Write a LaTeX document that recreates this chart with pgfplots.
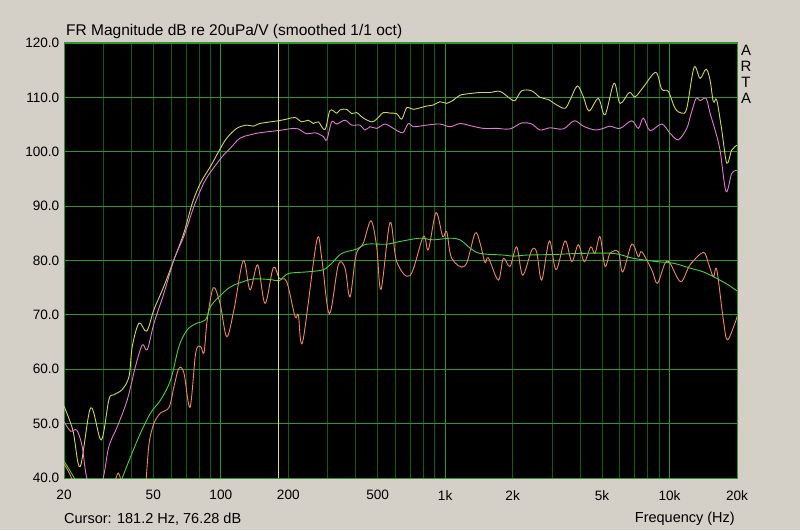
\documentclass[border=0pt]{standalone}
\usepackage{pgfplots}
\pgfplotsset{compat=1.18}
\usepackage{fontspec}
\setmainfont{Liberation Sans}
\definecolor{bg}{RGB}{212,208,200}
\definecolor{gbright}{RGB}{45,150,45}
\definecolor{gdark}{RGB}{22,88,22}
\definecolor{cyel}{RGB}{210,215,85}
\definecolor{cpink}{RGB}{230,120,215}
\definecolor{corange}{RGB}{245,135,95}
\definecolor{cgreen}{RGB}{75,210,60}
\definecolor{ccursor}{RGB}{225,225,90}
\begin{document}
\begin{tikzpicture}
\fill[bg] (0,0) rectangle (800pt,530pt);
\begin{axis}[
 at={(64pt,52pt)}, anchor=south west,
 scale only axis, width=673pt, height=435pt,
 xmode=log, xmin=20, xmax=20000, ymin=40, ymax=120,
 axis background/.style={fill=black},
 axis line style={gbright, line width=1pt},
 xtick={20,50,100,200,500,1000,2000,5000,10000,20000},
 xticklabels={20,50,100,200,500,1k,2k,5k,10k,20k},
 minor xtick={30,40,50,60,70,80,90,200,300,400,500,600,700,800,900,2000,3000,4000,5000,6000,7000,8000,9000},
 extra x ticks={100,1000,10000},
 extra x tick labels={},
 extra x tick style={grid=major},
 xminorgrids=true, minor grid style={gdark, line width=0.8pt},
 ytick={40,50,...,120},
 yticklabels={40.0,50.0,60.0,70.0,80.0,90.0,100.0,110.0,120.0},
 ymajorgrids=true, major grid style={gbright, line width=0.8pt},
 major tick length=0pt, minor tick length=0pt,
 tick label style={font=\fontsize{13.6}{16}\selectfont, text=black},
 xticklabel style={anchor=north, inner sep=0pt, yshift=-12pt},
 yticklabel style={anchor=east, inner sep=0pt, xshift=-4.5pt},
 every axis plot/.append style={line width=0.9pt},
]
% yellow
\addplot[cyel, smooth, tension=0.55] coordinates {
(20,53.2)(21.9,48.8)(23.6,42.1)(26.3,52.9)(29.3,47.0)(31.7,54.4)(33.4,55.3)(36.4,56.3)(39,58.7)(40.3,64.2)
(43.2,68.5)(46.7,67.0)(50.4,71)(55.8,75.3)(61.9,80.2)(68.5,85.1)(74.7,90.6)(81.3,94.3)(90.2,97.4)(99.2,100.5)
(106.3,102.5)(117.7,104.3)(130.5,104.9)(139.6,104.7)(149.5,105.2)(180.5,105.7)(196.7,106)(214.2,106.3)
(229.4,105.5)(245.5,105.8)(258.4,105.2)(272.1,105.5)(291.4,104.1)(306.8,107.6)(328.7,107.1)(340,107.7)
(364,107.8)(383.4,107)(403.4,107.2)(431.8,106.2)(470.6,105.5)(495.4,106)(530.2,107.2)(568,107.1)(608.4,107)
(640.4,106)(674.2,108.1)(721.4,107.8)(827.8,108.4)(885.6,108.6)(948.6,109.2)(1016,108.9)(1088,109.5)
(1165,110.4)(1291,110.7)(1431,110.9)(1585,110.9)(1756,111.1)(1946,109.8)(2048,109.4)(2194,111.2)(2432,111.2)
(2648,110)(2884,109.6)(3144,108.6)(3424,108)(3604,109.5)(3884,112.1)(4130,110.1)(4380,107.5)(4818,109.8)
(5160,106.8)(5660,112.6)(6020,108.9)(6622,110.9)(7024,110.1)(7650,111.9)(8684,114.6)(9236,111.5)(9882,111.1)
(10586,108)(11340,107.1)(11940,108)(12870,115.5)(13686,113.5)(14556,115.2)(15164,113.2)(15686,109.2)
(16242,109.5)(17098,104)(18000,97.9)(18942,100.3)(20000,101.2)};
% pink
\addplot[cpink, smooth, tension=0.55] coordinates {
(20,50.4)(21.4,48.6)(22.8,48.8)(24.1,45.8)(25.2,40.2)(27.4,36)(29.9,40)(31.7,45.8)(34.6,49.5)(38.3,54.4)
(41.7,60.6)(44.7,64.5)(47,63.6)(50.4,68.5)(55.8,74)(61.9,80.2)(68.5,84.5)(76,90)(84.1,94.3)(91.6,96.7)
(103.4,99.5)(109.9,100.6)(121.8,102.5)(135,103.1)(149.5,103.5)(180.5,103.9)(210.4,104.3)(221.6,104.2)
(241.5,103.3)(263,103.5)(286.4,102.8)(296.6,102.2)(312.2,105.5)(328.7,105.1)(357.8,105.8)(383.4,104.9)
(417.4,104.9)(439.4,104)(462.6,104.6)(495.4,104.3)(539.6,105.1)(587.6,104.3)(647,103.5)(685.2,105.2)
(721.4,104.6)(827.8,104.9)(948.6,105.1)(1051,104.6)(1165,105.2)(1291,104.8)(1480,104.3)(1698,104.3)
(1946,104.2)(2194,105.3)(2432,105.1)(2648,104)(2934,104.4)(3364,104.2)(3766,105.7)(4130,104.7)(4656,104)
(5070,104.3)(5432,104.7)(6020,104.3)(6788,105.7)(7266,104.3)(7650,106.2)(8190,103.9)(9236,105.1)(10056,103.4)
(10952,102.2)(11940,104.3)(12442,106.8)(13136,109.8)(13686,109.4)(14556,109.8)(15164,107.1)(15960,104)
(16800,100.3)(17870,92.7)(18942,96)(20000,96.6)};
% orange
\addplot[corange, smooth, tension=0.55] coordinates {
(20,42.6)(21.5,40.2)(22.5,37)};
\addplot[corange, smooth, tension=0.55] coordinates {
(33.3,38.5)(34.9,40.9)(36.4,38.5)};
\addplot[corange, smooth, tension=0.55] coordinates {
(45.5,37)(46.5,40)(47.9,46.4)(50.4,50.1)(54,52)(58.8,53)(61.9,56.9)(65.1,60.2)(68.5,59.3)(72.9,53)
(77.3,63)(81.3,64.2)(84.1,63)(87,69.1)(92.6,75)(99.2,72.1)(106.3,66)(114.5,71)(126,80)(135,74.6)(146,79.2)
(157.4,72.1)(171.4,78.7)(182.4,76.7)(196.7,76.1)(214.2,69.7)(221.6,70)(231.8,65.1)(267.6,83.6)(281.8,80.4)
(304.6,70.2)(334.1,79.2)(357.8,78.6)(376.6,73.3)(400.6,81)(431.8,83.2)(467.2,87.3)(495.4,82.5)(517.8,74.7)
(568,87)(608.4,79.8)(697.4,77.2)(799.4,84.4)(841.4,82)(910.6,88.8)(975.2,84.4)(1016,85.3)(1070,80.4)
(1227,79)(1359,85)(1431,83.2)(1506,79.6)(1558,80.5)(1726,76.4)(1817,80.4)(1946,78.9)(2084,82.5)(2216,77.3)
(2432,81.9)(2560,81.5)(2694,76.4)(2914,83.6)(3122,78.3)(3424,83.6)(3668,79.8)(3924,82.9)(4172,79.8)
(4456,82.5)(4656,81.3)(4902,84.4)(5160,78.9)(5432,81.3)(5916,81.6)(6188,77.9)(6788,83)(7266,80.7)(7524,81.6)
(8334,78.3)(8828,75.8)(9554,79.5)(10056,79.5)(11226,76.1)(12352,79.2)(14156,81.5)(14900,79.5)(15686,77)
(16242,78.3)(17380,69.1)(18112,65.4)(19594,68.5)(20000,69.7)};
% green
\addplot[cgreen, smooth, tension=0.55] coordinates {
(20,43.1)(22.2,40)(23,38)};
\addplot[cgreen, smooth, tension=0.55] coordinates {
(35.5,38)(36.4,40)(39.7,44)(43.9,48.3)(48.7,52)(54,54.4)(59.8,58.1)(65.1,64.2)(71,67.3)(78.6,68.5)(85.6,69.1)
(90.2,71.6)(99.2,73.5)(109.9,75.1)(121.8,75.9)(139.6,76.6)(165.7,76.5)(182.4,76.3)(200,77.6)(241.5,77.9)
(286.4,78.3)(312.2,79.5)(346,81.3)(403.4,82.1)(447.2,83)(549,83)(629.2,83.5)(772.8,84.1)(885.6,83.8)
(1051,84.1)(1165,83.8)(1291,82.3)(1431,81.3)(1817,81)(2013,80.8)(2310,81)(3036,81.1)(3992,81.3)(5620,81.3)
(6902,80.4)(8774,79.8)(10402,79.5)(12352,78.6)(14156,77.9)(16242,76.7)(18298,75.5)(20000,74.4)};
% cursor
\addplot[ccursor, line width=0.9pt] coordinates {(181.2,40)(181.2,120)};
\end{axis}
\node[anchor=base west, font=\fontsize{15.5}{18}\selectfont, inner sep=0pt] at (66pt,494pt) {FR Magnitude dB re 20uPa/V (smoothed 1/1 oct)};
\node[anchor=north, font=\fontsize{15}{16}\selectfont, align=center, inner sep=0pt] at (746pt,485pt) {A\\R\\T\\A};
\node[anchor=base west, font=\fontsize{14.5}{17}\selectfont, inner sep=0pt] at (64pt,7pt) {Cursor: 181.2 Hz, 76.28 dB};
\node[anchor=base east, font=\fontsize{14.5}{17}\selectfont, inner sep=0pt] at (735pt,7.5pt) {Frequency (Hz)};
\end{tikzpicture}
\end{document}
